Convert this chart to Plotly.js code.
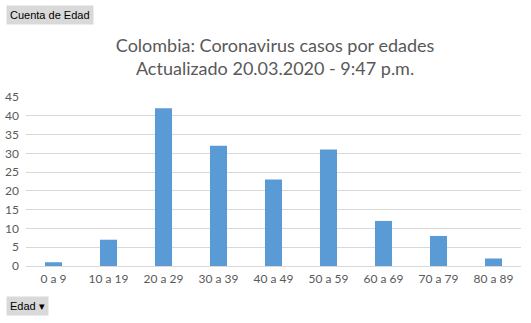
<!DOCTYPE html>
<html><head><meta charset="utf-8">
<script src="https://cdn.plot.ly/plotly-3.0.1.min.js"></script>
<style>body{margin:0;padding:0;background:#fff}#c{width:531px;height:323px}</style>
</head><body><div id="c"></div>
<script>
const categories = ["0 a 9","10 a 19","20 a 29","30 a 39","40 a 49","50 a 59","60 a 69","70 a 79","80 a 89"];
const casos = [1, 7, 42, 32, 23, 31, 12, 8, 2];
const yTicks = [0,5,10,15,20,25,30,35,40,45];
const font = "Lato, 'Open Sans', sans-serif";
Plotly.newPlot('c', [{
  type:'bar', x:categories, y:casos, marker:{color:'#5b9bd5'}, hoverinfo:'none'
}], {
  width:531, height:323,
  margin:{l:26, r:10, t:97, b:57},
  paper_bgcolor:'#fff', plot_bgcolor:'#fff',
  bargap:0.69,
  showlegend:false,
  font:{family:font, color:'#595959', size:12},
  title:{text:'Colombia: Coronavirus casos por edades<br>Actualizado 20.03.2020 - 9:47 p.m.',
    x:0.518, xanchor:'center', y:0.84, yanchor:'middle', font:{family:font, size:18, color:'#595959'}},
  xaxis:{showline:true, linecolor:'#d9d9d9', linewidth:1, ticks:'', ticklabelstandoff:2, tickfont:{size:12, color:'#595959'}, fixedrange:true},
  yaxis:{range:[0,45], tickvals:yTicks, gridcolor:'#d9d9d9', zeroline:false, ticks:'', ticklen:0, ticklabelstandoff:6,
    tickfont:{size:12, color:'#595959'}, fixedrange:true},
  annotations:[
    {text:'Cuenta de Edad', xref:'paper', yref:'paper', x:-0.04, y:1.485, xanchor:'left', yanchor:'middle', showarrow:false,
     bgcolor:'#d9d9d9', borderpad:3, font:{family:'Liberation Sans, sans-serif', size:11, color:'#000'}},
    {text:'Edad ▾', xref:'paper', yref:'paper', x:-0.04, y:-0.235, xanchor:'left', yanchor:'middle', showarrow:false,
     bgcolor:'#d9d9d9', borderpad:3, font:{family:'Liberation Sans, sans-serif', size:11, color:'#000'}}
  ]
}, {displayModeBar:false, staticPlot:true});
</script></body></html>
